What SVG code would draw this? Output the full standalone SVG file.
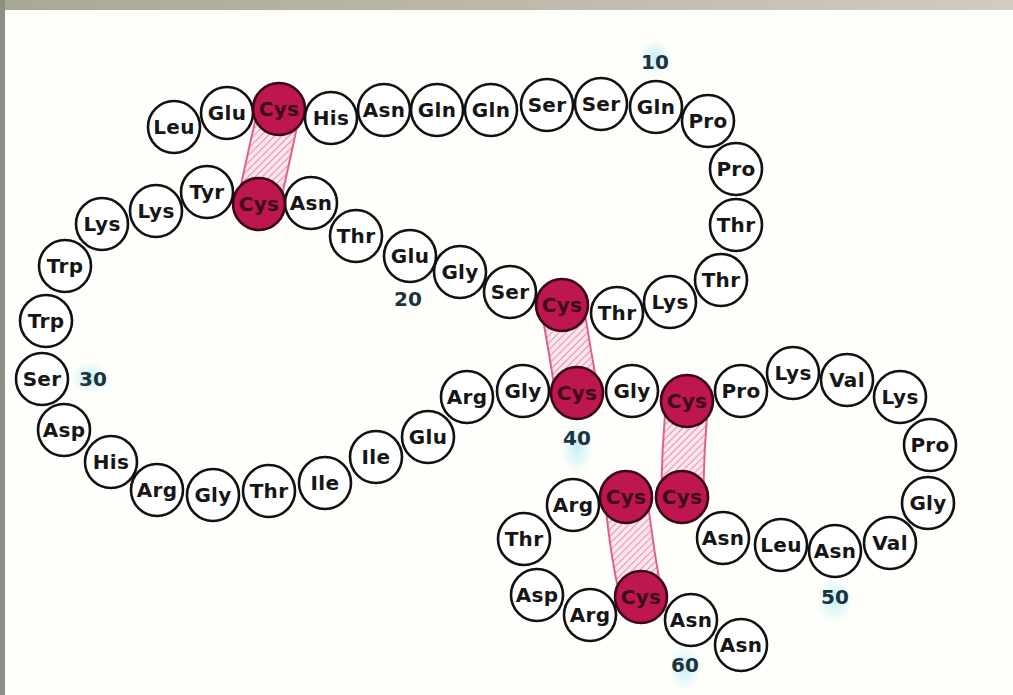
<svg xmlns="http://www.w3.org/2000/svg" width="1013" height="695" viewBox="0 0 1013 695">
<defs>
<linearGradient id="topbar" x1="0" y1="0" x2="1" y2="0">
<stop offset="0" stop-color="#a9a796"/>
<stop offset="1" stop-color="#d0ccbe"/>
</linearGradient>
<pattern id="hatch" patternUnits="userSpaceOnUse" width="5" height="5" patternTransform="rotate(45)">
<rect width="5" height="5" fill="#fbe6ee"/>
<line x1="0" y1="0" x2="0" y2="5" stroke="#e27ca0" stroke-width="1.6"/>
</pattern>
<radialGradient id="glow">
<stop offset="0" stop-color="#bfeef5" stop-opacity="0.9"/>
<stop offset="1" stop-color="#bfeef5" stop-opacity="0"/>
</radialGradient>
<style>
.res circle{fill:#fff;stroke:#111;stroke-width:2.6}
.cys circle{fill:#bd1650;stroke:#3a0814;stroke-width:2.6}
.res text,.cys text{font-family:"DejaVu Sans","Liberation Sans",sans-serif;font-weight:bold;font-size:20px;letter-spacing:0.3px;text-anchor:middle;fill:#161616}
.cys text{fill:#3a0a16}
.num{font-family:"DejaVu Sans","Liberation Sans",sans-serif;font-weight:bold;font-size:20px;text-anchor:middle;fill:#1b3440}
.bridge{fill:url(#hatch);stroke:#e0608e;stroke-width:2}
</style>
</defs>
<rect width="1013" height="695" fill="#fefefa"/>
<rect width="1013" height="10" fill="url(#topbar)"/>
<rect x="0" y="0" width="5" height="695" fill="#8f8e84"/>
<g id="glows">
<ellipse cx="655" cy="58" rx="16" ry="18" fill="url(#glow)"/>
<ellipse cx="90" cy="378" rx="20" ry="16" fill="url(#glow)"/>
<ellipse cx="577" cy="448" rx="16" ry="26" fill="url(#glow)"/>
<ellipse cx="835" cy="600" rx="18" ry="22" fill="url(#glow)"/>
<ellipse cx="685" cy="668" rx="16" ry="22" fill="url(#glow)"/>
</g>
<g id="connectors">
<path class="bridge" d="M259,105 Q247,155 238,200 L279,209 Q290,160 300,113 Z"/>
<path class="bridge" d="M541,308 Q549,352 556,397 L598,390 Q590,346 583,302 Z"/>
<path class="bridge" d="M666,400 Q662,448 661,496 L703,498 Q704,450 708,402 Z"/>
<path class="bridge" d="M605,498 Q609,548 620,598 L662,596 Q653,546 647,496 Z"/>
</g>
<g id="n1" class="res"><circle cx="174" cy="127" r="26"/><text x="174" y="134">Leu</text></g>
<g id="n2" class="res"><circle cx="227" cy="113" r="26"/><text x="227" y="120">Glu</text></g>
<g id="n3" class="cys"><circle cx="279" cy="109" r="26"/><text x="279" y="116">Cys</text></g>
<g id="n4" class="res"><circle cx="331" cy="118" r="26"/><text x="331" y="125">His</text></g>
<g id="n5" class="res"><circle cx="384" cy="110" r="26"/><text x="384" y="117">Asn</text></g>
<g id="n6" class="res"><circle cx="437" cy="110" r="26"/><text x="437" y="117">Gln</text></g>
<g id="n7" class="res"><circle cx="491" cy="110" r="26"/><text x="491" y="117">Gln</text></g>
<g id="n8" class="res"><circle cx="547" cy="105" r="26"/><text x="547" y="112">Ser</text></g>
<g id="n9" class="res"><circle cx="601" cy="104" r="26"/><text x="601" y="111">Ser</text></g>
<g id="n10" class="res"><circle cx="656" cy="107" r="26"/><text x="656" y="114">Gln</text></g>
<g id="n11" class="res"><circle cx="708" cy="121" r="26"/><text x="708" y="128">Pro</text></g>
<g id="n12" class="res"><circle cx="736" cy="169" r="26"/><text x="736" y="176">Pro</text></g>
<g id="n13" class="res"><circle cx="736" cy="225" r="26"/><text x="736" y="232">Thr</text></g>
<g id="n14" class="res"><circle cx="721" cy="280" r="26"/><text x="721" y="287">Thr</text></g>
<g id="n15" class="res"><circle cx="670" cy="302" r="26"/><text x="670" y="309">Lys</text></g>
<g id="n16" class="res"><circle cx="617" cy="313" r="26"/><text x="617" y="320">Thr</text></g>
<g id="n17" class="cys"><circle cx="562" cy="305" r="26"/><text x="562" y="312">Cys</text></g>
<g id="n18" class="res"><circle cx="510" cy="292" r="26"/><text x="510" y="299">Ser</text></g>
<g id="n19" class="res"><circle cx="460" cy="272" r="26"/><text x="460" y="279">Gly</text></g>
<g id="n20" class="res"><circle cx="410" cy="256" r="26"/><text x="410" y="263">Glu</text></g>
<g id="n21" class="res"><circle cx="356" cy="236" r="26"/><text x="356" y="243">Thr</text></g>
<g id="n22" class="res"><circle cx="311" cy="203" r="26"/><text x="311" y="210">Asn</text></g>
<g id="n23" class="cys"><circle cx="259" cy="204" r="26"/><text x="259" y="211">Cys</text></g>
<g id="n24" class="res"><circle cx="207" cy="192" r="26"/><text x="207" y="199">Tyr</text></g>
<g id="n25" class="res"><circle cx="156" cy="211" r="26"/><text x="156" y="218">Lys</text></g>
<g id="n26" class="res"><circle cx="102" cy="224" r="26"/><text x="102" y="231">Lys</text></g>
<g id="n27" class="res"><circle cx="65" cy="266" r="26"/><text x="65" y="273">Trp</text></g>
<g id="n28" class="res"><circle cx="46" cy="321" r="26"/><text x="46" y="328">Trp</text></g>
<g id="n29" class="res"><circle cx="42" cy="379" r="26"/><text x="42" y="386">Ser</text></g>
<g id="n30" class="res"><circle cx="64" cy="430" r="26"/><text x="64" y="437">Asp</text></g>
<g id="n31" class="res"><circle cx="111" cy="462" r="26"/><text x="111" y="469">His</text></g>
<g id="n32" class="res"><circle cx="157" cy="490" r="26"/><text x="157" y="497">Arg</text></g>
<g id="n33" class="res"><circle cx="213" cy="495" r="26"/><text x="213" y="502">Gly</text></g>
<g id="n34" class="res"><circle cx="269" cy="491" r="26"/><text x="269" y="498">Thr</text></g>
<g id="n35" class="res"><circle cx="325" cy="483" r="26"/><text x="325" y="490">Ile</text></g>
<g id="n36" class="res"><circle cx="376" cy="457" r="26"/><text x="376" y="464">Ile</text></g>
<g id="n37" class="res"><circle cx="428" cy="437" r="26"/><text x="428" y="444">Glu</text></g>
<g id="n38" class="res"><circle cx="467" cy="397" r="26"/><text x="467" y="404">Arg</text></g>
<g id="n39" class="res"><circle cx="523" cy="391" r="26"/><text x="523" y="398">Gly</text></g>
<g id="n40" class="cys"><circle cx="577" cy="393" r="26"/><text x="577" y="400">Cys</text></g>
<g id="n41" class="res"><circle cx="632" cy="391" r="26"/><text x="632" y="398">Gly</text></g>
<g id="n42" class="cys"><circle cx="687" cy="401" r="26"/><text x="687" y="408">Cys</text></g>
<g id="n43" class="res"><circle cx="741" cy="391" r="26"/><text x="741" y="398">Pro</text></g>
<g id="n44" class="res"><circle cx="793" cy="373" r="26"/><text x="793" y="380">Lys</text></g>
<g id="n45" class="res"><circle cx="847" cy="380" r="26"/><text x="847" y="387">Val</text></g>
<g id="n46" class="res"><circle cx="900" cy="397" r="26"/><text x="900" y="404">Lys</text></g>
<g id="n47" class="res"><circle cx="930" cy="445" r="26"/><text x="930" y="452">Pro</text></g>
<g id="n48" class="res"><circle cx="928" cy="503" r="26"/><text x="928" y="510">Gly</text></g>
<g id="n49" class="res"><circle cx="890" cy="543" r="26"/><text x="890" y="550">Val</text></g>
<g id="n50" class="res"><circle cx="835" cy="551" r="26"/><text x="835" y="558">Asn</text></g>
<g id="n51" class="res"><circle cx="781" cy="545" r="26"/><text x="781" y="552">Leu</text></g>
<g id="n52" class="res"><circle cx="723" cy="538" r="26"/><text x="723" y="545">Asn</text></g>
<g id="n53" class="cys"><circle cx="682" cy="497" r="26"/><text x="682" y="504">Cys</text></g>
<g id="n54" class="cys"><circle cx="626" cy="497" r="26"/><text x="626" y="504">Cys</text></g>
<g id="n55" class="res"><circle cx="573" cy="505" r="26"/><text x="573" y="512">Arg</text></g>
<g id="n56" class="res"><circle cx="524" cy="539" r="26"/><text x="524" y="546">Thr</text></g>
<g id="n57" class="res"><circle cx="537" cy="595" r="26"/><text x="537" y="602">Asp</text></g>
<g id="n58" class="res"><circle cx="590" cy="615" r="26"/><text x="590" y="622">Arg</text></g>
<g id="n59" class="cys"><circle cx="641" cy="597" r="26"/><text x="641" y="604">Cys</text></g>
<g id="n60" class="res"><circle cx="691" cy="620" r="26"/><text x="691" y="627">Asn</text></g>
<g id="n61" class="res"><circle cx="741" cy="645" r="26"/><text x="741" y="652">Asn</text></g>
<g id="labels">
<text class="num" x="655" y="69">10</text>
<text class="num" x="408" y="306" fill="#222">20</text>
<text class="num" x="93" y="386">30</text>
<text class="num" x="577" y="445">40</text>
<text class="num" x="835" y="604">50</text>
<text class="num" x="685" y="672">60</text>
</g>
</svg>
